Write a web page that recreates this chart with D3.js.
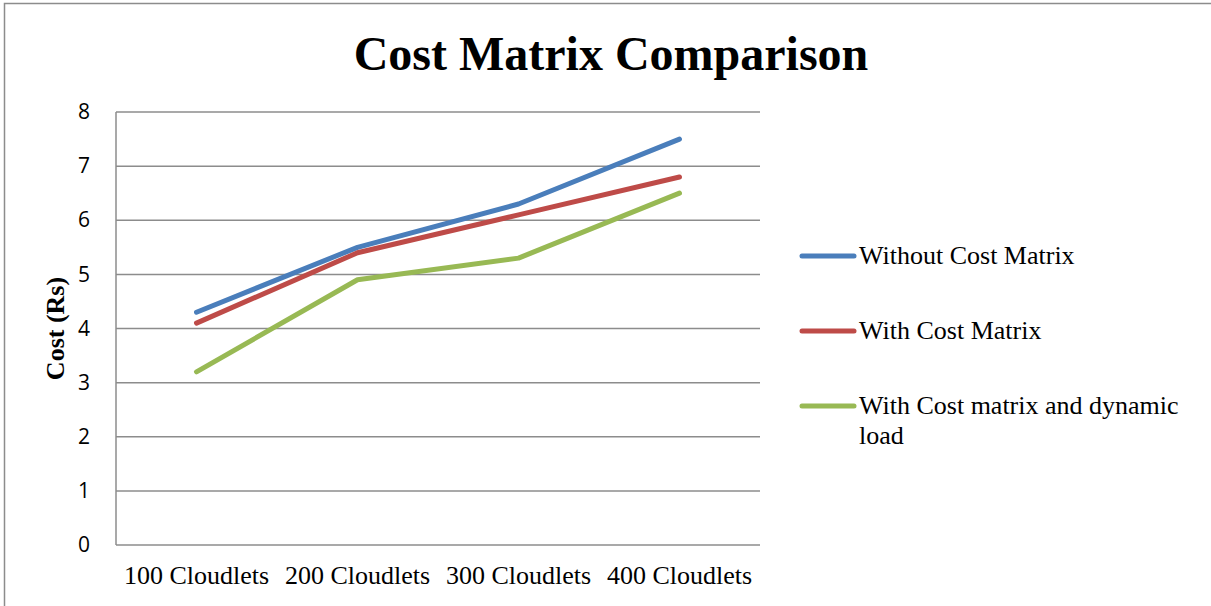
<!DOCTYPE html>
<html>
<head>
<meta charset="utf-8">
<script src="https://cdn.jsdelivr.net/npm/d3@7"></script>
<style>
  body { margin: 0; background: #fff; }
</style>
</head>
<body>
<div id="chart-area"></div>
<script>
const categories = ["100 Cloudlets", "200 Cloudlets", "300 Cloudlets", "400 Cloudlets"]
const withoutCostMatrix = [4.3, 5.5, 6.3, 7.5]
const withCostMatrix = [4.1, 5.4, 6.1, 6.8]
const withCostMatrixDynamic = [3.2, 4.9, 5.3, 6.5]
const seriesNames = ["Without Cost Matrix", "With Cost Matrix", "With Cost matrix and dynamic load"]
const yTicks = [0, 1, 2, 3, 4, 5, 6, 7, 8]

const series = [
    { name: seriesNames[0], values: withoutCostMatrix, color: "#4a7ebb" },
    { name: seriesNames[1], values: withCostMatrix, color: "#be4b48" },
    { name: seriesNames[2], values: withCostMatrixDynamic, color: "#98b954" }
]

const svgWidth = 1211
const svgHeight = 606
const margin = { left: 116, top: 112, right: 451, bottom: 61 }
const chartWidth = svgWidth - margin.left - margin.right
const chartHeight = svgHeight - margin.top - margin.bottom

const svg = d3.select("#chart-area")
    .append("svg")
    .attr("width", svgWidth)
    .attr("height", svgHeight)

// outer frame
svg.append("rect")
    .attr("x", 4.5)
    .attr("y", 3.5)
    .attr("width", svgWidth + 10)
    .attr("height", svgHeight + 10)
    .attr("fill", "none")
    .attr("stroke", "#8c8c8c")
    .attr("stroke-width", 1.5)

svg.append("text")
    .attr("x", 611)
    .attr("y", 70)
    .attr("text-anchor", "middle")
    .attr("font-family", "Liberation Serif")
    .attr("font-weight", "bold")
    .attr("font-size", 48)
    .text("Cost Matrix Comparison")

const chart = svg.append("g")
    .attr("transform", `translate(${margin.left},${margin.top})`)

const xScale = d3.scaleBand()
    .domain(categories)
    .range([0, chartWidth])

const yScale = d3.scaleLinear()
    .domain([0, 8])
    .range([chartHeight, 0])

// gridlines
chart.append("g")
    .selectAll("line")
    .data(yTicks)
    .join("line")
    .attr("x1", 0)
    .attr("x2", chartWidth)
    .attr("y1", d => yScale(d))
    .attr("y2", d => yScale(d))
    .attr("stroke", "#8c8c8c")
    .attr("stroke-width", 1.5)

chart.append("line")
    .attr("x1", 0).attr("x2", 0)
    .attr("y1", 0).attr("y2", chartHeight)
    .attr("stroke", "#8c8c8c")
    .attr("stroke-width", 1.5)

const yAxis = chart.append("g")
    .call(d3.axisLeft(yScale).tickValues(yTicks).tickSize(0).tickPadding(26).tickFormat(d3.format("d")))
yAxis.select(".domain").remove()
yAxis.selectAll("text")
    .attr("font-family", "Open Sans")
    .attr("font-size", 21)
    .attr("fill", "#000")

const xAxis = chart.append("g")
    .attr("transform", `translate(0,${chartHeight})`)
    .call(d3.axisBottom(xScale).tickSize(0).tickPadding(21))
xAxis.select(".domain").remove()
xAxis.selectAll("text")
    .attr("font-family", "Liberation Serif")
    .attr("font-size", 26)
    .attr("fill", "#000")

svg.append("text")
    .attr("transform", `translate(64,${margin.top + chartHeight / 2}) rotate(-90)`)
    .attr("text-anchor", "middle")
    .attr("font-family", "Liberation Serif")
    .attr("font-weight", "bold")
    .attr("font-size", 26)
    .text("Cost (Rs)")

const lineGenerator = d3.line()
    .x((d, i) => xScale(categories[i]) + xScale.bandwidth() / 2)
    .y(d => yScale(d))

chart.selectAll(".series")
    .data(series)
    .join("path")
    .attr("class", "series")
    .attr("d", d => lineGenerator(d.values))
    .attr("fill", "none")
    .attr("stroke", d => d.color)
    .attr("stroke-width", 5)
    .attr("stroke-linejoin", "round")
    .attr("stroke-linecap", "round")

// legend
const legendY = [256, 331, 406]
const legend = svg.append("g")
    .selectAll("g")
    .data(series)
    .join("g")
    .attr("transform", (d, i) => `translate(802,${legendY[i]})`)

legend.append("line")
    .attr("x1", 0).attr("x2", 52)
    .attr("stroke", d => d.color)
    .attr("stroke-width", 5)
    .attr("stroke-linecap", "round")

legend.append("text")
    .attr("x", 57)
    .attr("y", 8)
    .attr("font-family", "Liberation Serif")
    .attr("font-size", 26)
    .each(function(d) {
        const t = d3.select(this)
        const words = d.name.split(" ")
        if (words.length > 5) {
            t.append("tspan").attr("x", 57).text(words.slice(0, 5).join(" "))
            t.append("tspan").attr("x", 57).attr("dy", 30).text(words.slice(5).join(" "))
        } else {
            t.text(d.name)
        }
    })
</script>
</body>
</html>
